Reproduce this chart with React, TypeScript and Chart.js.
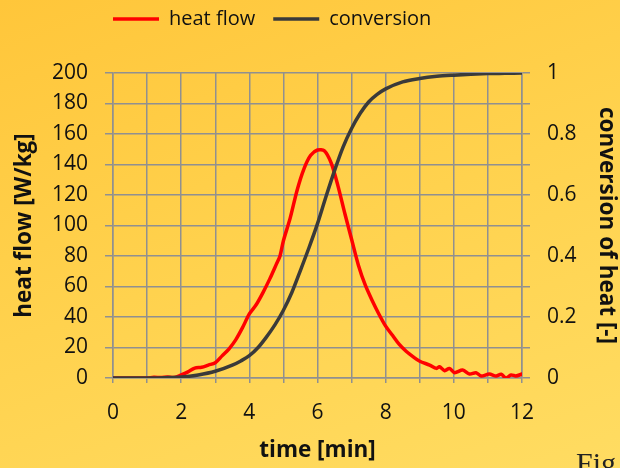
import React, { useEffect, useRef } from "react";
import { Chart, registerables } from "chart.js";

Chart.register(...registerables);

// time [min] and heat flow [W/kg]
const heatTime = [
  0, 0.5, 1.0, 1.2, 1.4, 1.6, 1.8, 2.0, 2.2, 2.4, 2.6, 2.8, 3.0, 3.2, 3.4, 3.6, 3.8,
  4.0, 4.2, 4.4, 4.6, 4.8, 4.9, 5.0, 5.2, 5.4, 5.6, 5.8, 6.0, 6.2, 6.4, 6.6, 6.8, 7.0,
  7.2, 7.4, 7.6, 7.8, 8.0, 8.2, 8.4, 8.6, 8.8, 9.0, 9.29, 9.49, 9.58, 9.73, 9.87,
  10.02, 10.26, 10.46, 10.65, 10.8, 11.04, 11.24, 11.39, 11.53, 11.68, 11.82, 12.0,
];
const heatFlow = [
  0, 0, 0, 0.5, 0.3, 0.6, 0.4, 2, 4, 6.5, 7, 8.5, 10, 14.5, 19, 25, 33,
  42, 48, 56, 65, 75, 80, 90, 105, 123, 137, 146, 149.5, 149, 141, 126, 108, 91,
  74, 61, 51, 42, 34, 28, 22, 17.5, 14, 11, 8.5, 6.3, 7.4, 4.8, 6.3,
  3.5, 5.2, 2.6, 3.5, 1.3, 2.6, 1.3, 2.4, 0, 2, 1.3, 2.6,
];

// time [min] and conversion of heat [-]
const convTime = [
  0, 1, 1.5, 2, 2.5, 3, 3.5, 3.75, 4, 4.25, 4.5, 4.75, 5, 5.25, 5.5, 5.75, 6, 6.25,
  6.5, 6.75, 7, 7.25, 7.5, 7.75, 8, 8.5, 9, 9.5, 10, 10.5, 11, 11.5, 12,
];
const conversion = [
  0, 0, 0.001, 0.003, 0.01, 0.022, 0.042, 0.056, 0.073, 0.099, 0.134, 0.174, 0.222,
  0.281, 0.353, 0.427, 0.506, 0.595, 0.68, 0.757, 0.818, 0.867, 0.905, 0.93, 0.948,
  0.971, 0.982, 0.989, 0.993, 0.996, 0.998, 0.999, 1,
];

const seriesNames = ["heat flow", "conversion"];
const xTitle = "time [min]";
const yLeftTitle = "heat flow [W/kg]";
const yRightTitle = "conversion of heat [-]";

const FONT = "'Open Sans', sans-serif";
const GRID = "#909090";

const legendSpacer = {
  id: "legendSpacer",
  beforeInit(chart: any) {
    const lg = chart.legend;
    if (!lg) return;
    const orig = lg.fit;
    lg.fit = function () {
      orig.call(this);
      this.height = 82;
    };
  },
  afterLayout(chart: any) {
    const lg = chart.legend;
    if (!lg) return;
    lg.left = 113 - 18;
  },
};

export default function App() {
  const ref = useRef<HTMLCanvasElement | null>(null);

  useEffect(() => {
    if (!ref.current) return;
    const chart = new Chart(ref.current, {
      type: "line",
      data: {
        datasets: [
          {
            label: seriesNames[0],
            data: heatTime.map((t, i) => ({ x: t, y: heatFlow[i] })),
            borderColor: "#ff0000",
            backgroundColor: "#ff0000",
            borderWidth: 3.5,
            borderCapStyle: "round",
            borderJoinStyle: "round",
            pointRadius: 0,
            tension: 0.3,
            yAxisID: "y",
            order: 2,
          },
          {
            label: seriesNames[1],
            data: convTime.map((t, i) => ({ x: t, y: conversion[i] })),
            borderColor: "#3a3a3a",
            backgroundColor: "#3a3a3a",
            borderWidth: 3.5,
            borderCapStyle: "round",
            pointRadius: 0,
            cubicInterpolationMode: "monotone",
            yAxisID: "y1",
            order: 1,
          },
        ],
      },
      options: {
        animation: false,
        responsive: false,
        maintainAspectRatio: false,
        layout: { padding: { top: -9, left: 0, right: 0, bottom: 0 } },
        plugins: {
          tooltip: { enabled: false },
          legend: {
            position: "top",
            align: "start",
            labels: {
              usePointStyle: true,
              pointStyle: "line",
              pointStyleWidth: 46,
              color: "#111",
              padding: 18,
              font: { family: FONT, size: 20 },
              sort: (a: any, b: any) => a.datasetIndex - b.datasetIndex,
            },
          },
        },
        scales: {
          x: {
            type: "linear",
            min: 0,
            max: 12,
            afterFit: (s: any) => {
              s.height = 90;
            },
            ticks: {
              stepSize: 1,
              autoSkip: false,
              maxRotation: 0,
              color: "#111",
              padding: 17,
              font: { family: FONT, size: 21 },
              callback: (v: any) => (Math.round(v) % 2 === 0 ? String(v) : ""),
            },
            grid: { color: GRID, lineWidth: 1.5, tickLength: 5 },
            border: { color: GRID, width: 1.5 },
            title: {
              display: true,
              text: xTitle,
              color: "#111",
              font: { family: FONT, size: 22.5, weight: "bold" },
              padding: { top: 2 },
            },
          },
          y: {
            position: "left",
            min: 0,
            max: 200,
            afterFit: (s: any) => {
              s.width = 113;
            },
            ticks: {
              stepSize: 20,
              color: "#111",
              padding: 17,
              font: { family: FONT, size: 21 },
            },
            grid: { color: GRID, lineWidth: 1.5, tickLength: 8 },
            border: { color: GRID, width: 1.5 },
            title: {
              display: true,
              text: yLeftTitle,
              color: "#111",
              font: { family: FONT, size: 22.5, weight: "bold" },
              padding: { top: 11, bottom: 0 },
            },
          },
          y1: {
            position: "right",
            min: 0,
            max: 1,
            afterFit: (s: any) => {
              s.width = 98;
            },
            ticks: {
              stepSize: 0.1,
              autoSkip: false,
              color: "#111",
              padding: 17,
              font: { family: FONT, size: 21 },
              callback: (v: any) => {
                const k = Math.round(Number(v) * 10);
                return k % 2 === 0 ? String(k / 10) : "";
              },
            },
            grid: { drawOnChartArea: false, color: GRID, lineWidth: 1.5, tickLength: 8 },
            border: { color: GRID, width: 1.5 },
            title: {
              display: true,
              text: yRightTitle,
              color: "#111",
              font: { family: FONT, size: 22.5, weight: "bold" },
              padding: { top: 0, bottom: 2 },
            },
          },
        },
      },
      plugins: [legendSpacer],
    });
    return () => chart.destroy();
  }, []);

  return (
    <div
      style={{
        position: "fixed",
        left: 0,
        top: 0,
        width: 620,
        height: 468,
        overflow: "hidden",
        background: "linear-gradient(160deg, #ffc63a 0%, #ffd24e 50%, #ffdc62 100%)",
      }}
    >
      <canvas ref={ref} width={620} height={468} style={{ display: "block" }} />
      <span
        style={{
          position: "absolute",
          left: 576,
          top: 448,
          fontFamily: "'Liberation Serif', 'DejaVu Serif', serif",
          fontSize: 30,
          color: "#222",
          lineHeight: 1,
        }}
      >
        Fig
      </span>
    </div>
  );
}
